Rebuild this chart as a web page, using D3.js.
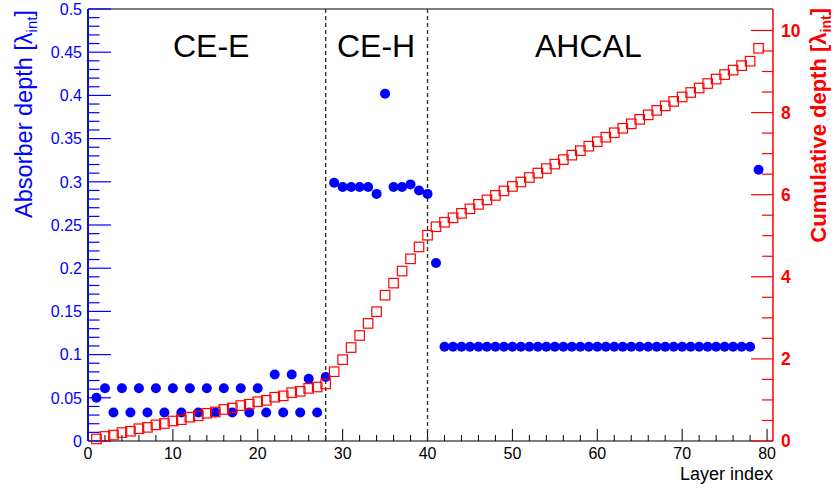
<!DOCTYPE html>
<html>
<head>
<meta charset="utf-8">
<script src="https://cdn.jsdelivr.net/npm/d3@7"></script>
<style>
html,body{margin:0;padding:0;background:#fff;}
svg{display:block;font-family:"Liberation Sans",Arial,Helvetica,sans-serif;}
</style>
</head>
<body>
<svg id="chart" width="834" height="489"></svg>
<script>
// ---------------- data ----------------
const layers = d3.range(1, 80); // layer index 1..79
const absorberCEE = [0.050, 0.061, 0.033, 0.061, 0.033, 0.061, 0.033, 0.061, 0.033, 0.061,
                     0.033, 0.061, 0.033, 0.061, 0.033, 0.061, 0.033, 0.061, 0.033, 0.061,
                     0.033, 0.077, 0.033, 0.077, 0.033, 0.072, 0.033, 0.074];
const absorberCEH = [0.299, 0.294, 0.294, 0.294, 0.294, 0.286, 0.402, 0.294, 0.294, 0.297,
                     0.290, 0.286];
const absorberAHCAL = [0.206,
                       0.109, 0.109, 0.109, 0.109, 0.109, 0.109, 0.109, 0.109, 0.109, 0.109,
                       0.109, 0.109, 0.109, 0.109, 0.109, 0.109, 0.109, 0.109, 0.109, 0.109,
                       0.109, 0.109, 0.109, 0.109, 0.109, 0.109, 0.109, 0.109, 0.109, 0.109,
                       0.109, 0.109, 0.109, 0.109, 0.109, 0.109, 0.109,
                       0.314];
const absorber = absorberCEE.concat(absorberCEH, absorberAHCAL);
const cumulative = Array.from(d3.cumsum(absorber));
const boundaries = [28, 40];
const sections = [
  {name: "CE-E", x: 173},
  {name: "CE-H", x: 337},
  {name: "AHCAL", x: 535}
];
const xTickLabels = [0, 10, 20, 30, 40, 50, 60, 70, 80];
const leftTickLabels = [0, 0.05, 0.1, 0.15, 0.2, 0.25, 0.3, 0.35, 0.4, 0.45, 0.5];
const rightTickLabels = [0, 2, 4, 6, 8, 10];

// ---------------- layout ----------------
const L = 88, R = 773, T = 9, B = 441;
const svg = d3.select("#chart");
const x = d3.scaleLinear().domain([0, 80.7]).range([L, R]);
const yL = d3.scaleLinear().domain([0, 0.5]).range([B, T]);
const yR = d3.scaleLinear().domain([0, d3.max(cumulative) * 1.1]).range([B, T]);

const BLUE = "#0000ff", RED = "#ff0000";

// top frame line
svg.append("line").attr("x1", L).attr("x2", R).attr("y1", T).attr("y2", T)
  .attr("stroke", "#000").attr("stroke-width", 1);

// ---- x axis ----
const gx = svg.append("g");
const xMinor = d3.range(0, 81, 2);
gx.selectAll("line.mt").data(xMinor).join("line")
  .attr("x1", d => x(d)).attr("x2", d => x(d))
  .attr("y1", B).attr("y2", d => B - (d % 10 === 0 ? 12 : 6))
  .attr("stroke", "#000").attr("stroke-width", 1);
gx.selectAll("text").data(xTickLabels).join("text")
  .attr("x", d => x(d)).attr("y", 459)
  .attr("text-anchor", "middle").attr("font-size", 16).attr("fill", "#000")
  .text(d => d);
gx.append("text").attr("x", R).attr("y", 480).attr("text-anchor", "end")
  .attr("font-size", 18).attr("fill", "#000").text("Layer index");
gx.append("line").attr("x1", L).attr("x2", R).attr("y1", B).attr("y2", B)
  .attr("stroke", "#000").attr("stroke-width", 1.2);

// ---- dashed boundaries ----
svg.selectAll("line.bd").data(boundaries).join("line")
  .attr("x1", d => x(d)).attr("x2", d => x(d)).attr("y1", T).attr("y2", B)
  .attr("stroke", "#333").attr("stroke-width", 1.4).attr("stroke-dasharray", "4,3");

// ---- section labels ----
svg.selectAll("text.sec").data(sections).join("text")
  .attr("x", d => d.x).attr("y", 57).attr("font-size", 32).attr("fill", "#000")
  .text(d => d.name);

// ---- left axis (blue) ----
const gl = svg.append("g");
const leftTicks = d3.range(0, 51).map(i => i / 100);
gl.selectAll("line").data(leftTicks).join("line")
  .attr("x1", L).attr("x2", (d, i) => L + (i % 5 === 0 ? 23 : 11.5))
  .attr("y1", d => yL(d)).attr("y2", d => yL(d))
  .attr("stroke", BLUE).attr("stroke-width", 1.2);
gl.append("line").attr("x1", L).attr("x2", L).attr("y1", T).attr("y2", B)
  .attr("stroke", "#1010c0").attr("stroke-width", 2);
gl.selectAll("text").data(leftTickLabels).join("text")
  .attr("x", 82).attr("y", d => yL(d)).attr("dy", "0.36em")
  .attr("text-anchor", "end").attr("font-size", 16).attr("fill", BLUE)
  .text(d => String(+d.toFixed(2)));
const lt = gl.append("text").attr("transform", "translate(32,10) rotate(-90)")
  .attr("text-anchor", "end").attr("font-size", 23.5).attr("fill", BLUE);
lt.append("tspan").text("Absorber depth [λ");
lt.append("tspan").attr("font-size", 15).attr("dy", 5).text("int");
lt.append("tspan").attr("dy", -5).text("]");

// ---- right axis (red) ----
const gr = svg.append("g");
const rightTicks = d3.range(0, 21).map(i => i / 2);
gr.selectAll("line").data(rightTicks).join("line")
  .attr("x1", R).attr("x2", (d, i) => R - (i % 4 === 0 ? 22 : 11))
  .attr("y1", d => yR(d)).attr("y2", d => yR(d))
  .attr("stroke", RED).attr("stroke-width", 1.2);
gr.append("line").attr("x1", R).attr("x2", R).attr("y1", T).attr("y2", B)
  .attr("stroke", RED).attr("stroke-width", 1.5);
gr.selectAll("text").data(rightTickLabels).join("text")
  .attr("x", 781).attr("y", d => yR(d)).attr("dy", "0.36em")
  .attr("text-anchor", "start").attr("font-size", 17.5).attr("font-weight", "bold")
  .attr("fill", RED).text(d => d);
const rt = gr.append("text").attr("transform", "translate(826,8) rotate(-90)")
  .attr("text-anchor", "end").attr("font-size", 22).attr("font-weight", "bold").attr("fill", RED);
rt.append("tspan").text("Cumulative depth [λ");
rt.append("tspan").attr("font-size", 14).attr("dy", 5).text("int");
rt.append("tspan").attr("dy", -5).text("]");

// ---- blue points (absorber depth) ----
svg.append("g").selectAll("circle").data(layers).join("circle")
  .attr("cx", d => x(d)).attr("cy", (d, i) => yL(absorber[i]))
  .attr("r", 5).attr("fill", BLUE);

// ---- red open squares (cumulative) ----
const S = 9.5;
svg.append("g").selectAll("rect").data(layers).join("rect")
  .attr("x", d => x(d) - S / 2).attr("y", (d, i) => yR(cumulative[i]) - S / 2)
  .attr("width", S).attr("height", S)
  .attr("fill", "none").attr("stroke", RED).attr("stroke-width", 1.2);
</script>
</body>
</html>
